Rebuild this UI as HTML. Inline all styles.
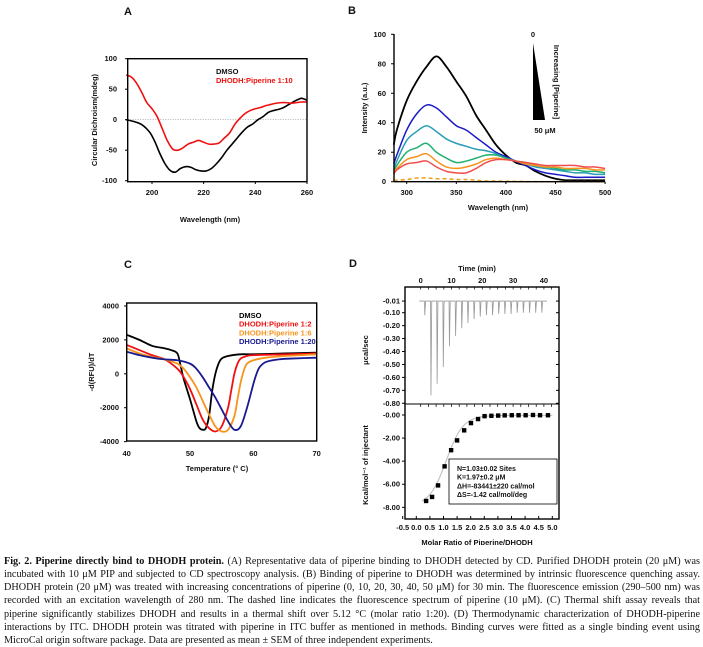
<!DOCTYPE html>
<html><head><meta charset="utf-8"><style>
body{margin:0;background:#fff;width:703px;height:645px;overflow:hidden;position:relative;font-family:"Liberation Sans",Arial,sans-serif}
svg{position:absolute;left:0;top:0}
.cap{position:absolute;left:4px;width:696px;font-family:"Liberation Serif",serif;font-size:10.2px;line-height:13px;height:13px;overflow:hidden;text-align:justify;text-align-last:justify;white-space:normal;color:#111}
</style></head><body>
<svg id="fig" width="703" height="545" viewBox="0 0 703 545"></svg>
<div class="cap" style="top:555px"><b>Fig. 2. Piperine directly bind to DHODH protein.</b> (A) Representative data of piperine binding to DHODH detected by CD. Purified DHODH protein (20 μM) was</div>
<div class="cap" style="top:568px">incubated with 10 μM PIP and subjected to CD spectroscopy analysis. (B) Binding of piperine to DHODH was determined by intrinsic fluorescence quenching assay.</div>
<div class="cap" style="top:581px">DHODH protein (20 μM) was treated with increasing concentrations of piperine (0, 10, 20, 30, 40, 50 μM) for 30 min. The fluorescence emission (290–500 nm) was</div>
<div class="cap" style="top:594px">recorded with an excitation wavelength of 280 nm. The dashed line indicates the fluorescence spectrum of piperine (10 μM). (C) Thermal shift assay reveals that</div>
<div class="cap" style="top:608px">piperine significantly stabilizes DHODH and results in a thermal shift over 5.12 °C (molar ratio 1:20). (D) Thermodynamic characterization of DHODH-piperine</div>
<div class="cap" style="top:621px">interactions by ITC. DHODH protein was titrated with piperine in ITC buffer as mentioned in methods. Binding curves were fitted as a single binding event using</div>
<div class="cap" style="top:634px;text-align-last:left">MicroCal origin software package. Data are presented as mean ± SEM of three independent experiments.</div>
<script>
// ---- Panel A data ----
const aWaveDmso=[190,193,196,199,201,203,205,207,209,211,213,215,217,219,221,223,225,227,229,231,233,235,237,239,241,243,245,247,249,251,253,255,257,258,260];
const aDmso=[0,-3,-8,-20,-35,-55,-72,-83,-86,-80,-77,-78,-82,-84,-84,-80,-72,-62,-50,-40,-30,-20,-12,-7,0,5,12,15,17,20,25,30,34,35,32];
const aWavePip=[190,192,194,196,198,200,202,204,206,208,210,212,214,216,218,220,222,224,226,228,230,232,234,236,238,240,242,244,246,248,250,252,254,256,258,260];
const aPip=[73,70,60,45,28,18,5,-15,-35,-48,-50,-46,-40,-37,-34,-37,-40,-40,-38,-30,-22,-8,2,10,15,18,20,23,25,27,28,28,27,28,29,29];
const aXTicks=[200,220,240,260];
const aYTicks=[100,50,0,-50,-100];
// ---- Panel B data ----
const bWave=[287,290,300,310,320,330,340,350,360,370,380,390,400,410,420,430,440,450,460,470,480,490,500];
const b0=[25,35,55,68,78,85,78,68,58,45,35,25,18,13,11,7,4,2,1,1,1,1,1];
const b10=[12,18,35,46,52,50,44,38,35,30,25,20,17,14,11,8,6,5,4,3,3,3,3];
const b20=[8,14,28,34,38,34,29,26,24,22,21,19,16,14,12,10,9,8,7,6,6,5,5];
const b30=[7,11,20,23,26,20,16,13,14,16,18,18,16,14,13,11,10,9,8,8,7,7,6];
const b40=[6,9,15,17,19,14,10,9,10,12,15,16,15,14,12,11,10,10,9,9,9,8,8];
const b50=[5,8,12,13,14,10,7,6,6,9,13,15,15,14,13,12,11,11,11,11,10,10,9];
const bPipOnly=[0.5,1,1.5,2.5,2.5,2,2,1.5,1.5,1,0.5,0.4,0.3,0.2,0.1,0,0,0,0,0,0,0,0];
const bXTicks=[300,350,400,450,500];
const bYTicks=[0,20,40,60,80,100];
// ---- Panel C data ----
const cTDmso=[40,42,44,46,47,48,48.5,49,50,51,51.5,52,52.5,53,53.5,54,54.5,55,56,58,60,65,70];
const cDmso=[2.3,2.0,1.65,1.5,1.4,1.2,0.5,-0.3,-1.5,-2.8,-3.2,-3.3,-3.2,-2.5,-1,0,0.6,0.9,1.05,1.15,1.15,1.2,1.25];
const cTR2=[40,42,44,46,48,49,50,51,52,53,54,55,56,56.5,57,57.5,58,59,60,65,70];
const cR2=[1.7,1.4,1.1,0.85,0.3,-0.2,-0.9,-1.8,-2.7,-3.2,-3.4,-3.1,-2,-1,0,0.6,0.9,1.05,1.1,1.15,1.2];
const cTR6=[40,42,44,46,48,49,50,51,52,53,54,55,56,57,57.5,58,58.5,59,60,62,65,70];
const cR6=[1.5,1.2,1.0,0.85,0.6,0.3,-0.2,-0.8,-1.6,-2.4,-3.1,-3.4,-3.3,-2.5,-1.5,-0.5,0.2,0.6,0.8,0.95,1.05,1.15];
const cTR20=[40,42,44,46,48,50,51,52,53,54,55,56,57,58,59,60,60.5,61,62,64,66,70];
const cR20=[1.3,1.1,0.95,0.85,0.8,0.6,0.3,-0.2,-0.8,-1.4,-2.1,-2.8,-3.3,-3.1,-2.0,-0.6,0,0.4,0.7,0.85,0.9,0.95];
const cXTicks=[40,50,60,70];
const cYTicks=[4000,2000,0,-2000,-4000];
// ---- Panel D data ----
const dInjTime=[1.2,3.2,5.2,7.2,9.2,11.2,13.2,15.2,17.2,19.2,21.2,23.2,25.2,27.2,29.2,31.2,33.2,35.2,37.2,39.2];
const dPeak=[-0.12,-0.74,-0.65,-0.52,-0.36,-0.28,-0.22,-0.18,-0.15,-0.13,-0.12,-0.12,-0.11,-0.11,-0.11,-0.10,-0.10,-0.10,-0.10,-0.10];
const dRatio=[0.36,0.58,0.8,1.04,1.28,1.5,1.76,2.01,2.27,2.51,2.76,3.01,3.25,3.51,3.76,4.02,4.29,4.55,4.84];
const dHeat=[-7.45,-7.1,-6.1,-4.45,-3.05,-2.2,-1.33,-0.7,-0.35,-0.1,-0.07,-0.05,-0.03,-0.02,-0.02,-0.02,0,-0.02,-0.02];
const dTimeTicks=[0,10,20,30,40];
const dTopTicks=[-0.01,-0.10,-0.20,-0.30,-0.40,-0.50,-0.60,-0.70,-0.80];
const dTopLabels=["-0.01","-0.10","-0.20","-0.30","-0.40","-0.50","-0.60","-0.70","-0.80"];
const dBotTicks=[0,-2,-4,-6,-8];
const dBotLabels=["-0.00","-2.00","-4.00","-6.00","-8.00"];
const dRatioTicks=[-0.5,0,0.5,1,1.5,2,2.5,3,3.5,4,4.5,5];
const dRatioLabels=["-0.5","0.0","0.5","1.0","1.5","2.0","2.5","3.0","3.5","4.0","4.5","5.0"];

const NS="http://www.w3.org/2000/svg";
const svg=document.getElementById('fig');
function mk(tag,attrs,parent){const e=document.createElementNS(NS,tag);for(const k in attrs)e.setAttribute(k,attrs[k]);(parent||svg).appendChild(e);return e;}
function txt(s,x,y,o){o=o||{};const e=mk('text',{x:x,y:y,'font-size':o.fs||7.5,'font-weight':o.fw||'bold','text-anchor':o.a||'middle',fill:o.c||'#111','font-family':'Liberation Sans, Arial, sans-serif'});if(o.rot)e.setAttribute('transform','rotate('+o.rot+' '+x+' '+y+')');e.textContent=s;return e;}
function smooth(pts){let d='M'+pts[0][0]+','+pts[0][1];for(let i=0;i<pts.length-1;i++){const p0=pts[Math.max(0,i-1)],p1=pts[i],p2=pts[i+1],p3=pts[Math.min(pts.length-1,i+2)];const c1=[p1[0]+(p2[0]-p0[0])/6,p1[1]+(p2[1]-p0[1])/6],c2=[p2[0]-(p3[0]-p1[0])/6,p2[1]-(p3[1]-p1[1])/6];d+='C'+c1[0].toFixed(2)+','+c1[1].toFixed(2)+' '+c2[0].toFixed(2)+','+c2[1].toFixed(2)+' '+p2[0].toFixed(2)+','+p2[1].toFixed(2);}return d;}
function series(xs,ys,fx,fy,stroke,w,name,dash){const pts=xs.map((x,i)=>[fx(x),fy(ys[i])]);const p=mk('path',{d:smooth(pts),fill:'none',stroke:stroke,'stroke-width':w,'stroke-linejoin':'round'});if(dash)p.setAttribute('stroke-dasharray',dash);


return p;}

// ===== Panel A =====
const ax=w=>152+(w-200)*2.583, ay=v=>119.7-v*0.61;
let t=txt('A',128,15,{fs:11});


mk('line',{x1:127.7,y1:ay(0),x2:307,y2:ay(0),stroke:'#888','stroke-width':0.7,'stroke-dasharray':'1,1.5'});
series(aWaveDmso,aDmso,ax,ay,'#000',1.6,'dmso-cd-line');
series(aWavePip,aPip,ax,ay,'#f01010',1.6,'piperine-cd-line');
let r=mk('rect',{x:127.7,y:58.7,width:179.3,height:123,fill:'none',stroke:'#000','stroke-width':1.4});


aXTicks.forEach(v=>{mk('line',{x1:ax(v),y1:181.7,x2:ax(v),y2:184,stroke:'#000'});t=txt(String(v),ax(v),195);

});
aYTicks.forEach(v=>{mk('line',{x1:125,y1:ay(v),x2:127.7,y2:ay(v),stroke:'#000'});t=txt(String(v),117,ay(v)+2.5,{a:'end'});

});
t=txt('Wavelength (nm)',210,222);


t=txt('Circular Dichroism(mdeg)',97,120,{rot:-90});


t=txt('DMSO',216,74,{a:'start',fs:7.5});


t=txt('DHODH:Piperine  1:10',216,83,{a:'start',fs:7.5,c:'#f01010'});



// ===== Panel B =====
const bx=w=>406.7+(w-300)*0.992, by=v=>181.7-v*1.474;
t=txt('B',352,14,{fs:11});


series(bWave,b0,bx,by,'#000',1.8,'fluor-0uM');
series(bWave,b10,bx,by,'#1a1ac8',1.5,'fluor-10uM');
series(bWave,b20,bx,by,'#2a9db8',1.5,'fluor-20uM');
series(bWave,b30,bx,by,'#20b070',1.5,'fluor-30uM');
series(bWave,b40,bx,by,'#f7941d',1.5,'fluor-40uM');
series(bWave,b50,bx,by,'#f04e4e',1.5,'fluor-50uM');
series(bWave,bPipOnly,bx,by,'#f0a020',1.6,'fluor-piperine-only','4,3');
mk('line',{x1:394,y1:34,x2:394,y2:181.7,stroke:'#000','stroke-width':1.4});
mk('line',{x1:394,y1:181.7,x2:605,y2:181.7,stroke:'#000','stroke-width':1.4});
bXTicks.forEach(v=>{mk('line',{x1:bx(v),y1:181.7,x2:bx(v),y2:184,stroke:'#000'});t=txt(String(v),bx(v),195);

});
bYTicks.forEach(v=>{mk('line',{x1:391,y1:by(v),x2:394,y2:by(v),stroke:'#000'});t=txt(String(v),386,by(v)+2.5,{a:'end'});

});
t=txt('Wavelength (nm)',498,210);


t=txt('Intensity (a.u.)',367,108,{rot:-90});


let tri=mk('polygon',{points:'533,43 533,120 545,120',fill:'#000'});


t=txt('0',533,37);


t=txt('50 μM',545,133);


t=txt('Increasing [Piperine]',554,82,{rot:90});



// ===== Panel C =====
const cx=v=>126.7+(v-40)*6.333, cy=v=>373.8-v*16.96;
t=txt('C',128,268,{fs:11});


series(cTDmso,cDmso,cx,cy,'#000',1.8,'tsa-dmso');
series(cTR2,cR2,cx,cy,'#f01010',1.8,'tsa-1-2');
series(cTR6,cR6,cx,cy,'#f7941d',1.8,'tsa-1-6');
series(cTR20,cR20,cx,cy,'#1a1a90',1.8,'tsa-1-20');
r=mk('rect',{x:126.7,y:303,width:190,height:138,fill:'none',stroke:'#000','stroke-width':1.4});


cXTicks.forEach(v=>{t=txt(String(v),cx(v),456);

});
cYTicks.forEach(v=>{mk('line',{x1:124,y1:cy(v/1000),x2:126.7,y2:cy(v/1000),stroke:'#000'});t=txt(String(v),119,cy(v/1000)+2.5,{a:'end'});

});
t=txt('Temperature (°  C)',217,471);


t=txt('-d(RFU)/dT',94,372,{rot:-90});


[['DMSO','#000'],['DHODH:Piperine 1:2','#f01010'],['DHODH:Piperine 1:6','#f7941d'],['DHODH:Piperine 1:20','#1a1a90']].forEach((l,i)=>{t=txt(l[0],239,318+i*8.7,{a:'start',c:l[1]});

});

// ===== Panel D =====
t=txt('D',353,267,{fs:11});


const dtx=m=>420.7+m*3.08, dty=v=>312.7+(-0.1-v)*129.4;
const drx=v=>416.3+v*27.2, dry=v=>415-v*11.54;
// raw trace
let d='M'+dtx(-0.5)+','+dty(-0.01);
dInjTime.forEach((m,i)=>{d+=' L'+dtx(m)+','+dty(-0.01)+' L'+(dtx(m)+0.4)+','+dty(dPeak[i])+' L'+(dtx(m)+1.2)+','+dty(-0.01);});
d+=' L'+dtx(41)+','+dty(-0.01);
let pth=mk('path',{d:d,fill:'none',stroke:'#999','stroke-width':0.8});


// fit curve
let fitPts=[];for(let x=0.2;x<=5.0;x+=0.1){fitPts.push([drx(x),dry(-7.85/(1+Math.exp((x-1.1)*3.2))-0.03)]);}
pth=mk('path',{d:smooth(fitPts),fill:'none',stroke:'#bbb','stroke-width':1});


dRatio.forEach((v,i)=>{const s=mk('rect',{x:drx(v)-2.2,y:dry(dHeat[i])-2.2,width:4.4,height:4.4,fill:'#000'});

});
r=mk('rect',{x:405,y:287,width:154,height:232,fill:'none',stroke:'#000','stroke-width':1.4});


mk('line',{x1:405,y1:404,x2:559,y2:404,stroke:'#000','stroke-width':1});
for(let m=0;m<=44;m+=2.5){mk('line',{x1:dtx(m),y1:287,x2:dtx(m),y2:289.5,stroke:'#000','stroke-width':0.7});mk('line',{x1:dtx(m),y1:404,x2:dtx(m),y2:407,stroke:'#000','stroke-width':0.7});}
dTimeTicks.forEach(v=>{t=txt(String(v),dtx(v),283);

});
t=txt('Time (min)',477,271);


dTopTicks.forEach((v,i)=>{mk('line',{x1:402,y1:dty(v),x2:405,y2:dty(v),stroke:'#000'});mk('line',{x1:556,y1:dty(v),x2:559,y2:dty(v),stroke:'#000'});t=txt(dTopLabels[i],400,dty(v)+2.5,{a:'end'});

});
dBotTicks.forEach((v,i)=>{mk('line',{x1:402,y1:dry(v),x2:405,y2:dry(v),stroke:'#000'});t=txt(dBotLabels[i],400,dry(v)+2.5,{a:'end'});

});
dRatioTicks.forEach((v,i)=>{mk('line',{x1:drx(v),y1:519,x2:drx(v),y2:516,stroke:'#000'});t=txt(dRatioLabels[i],drx(v),530);

});
t=txt('Molar Ratio of Piperine/DHODH',477,545);


t=txt('μcal/sec',368,350,{rot:-90});


t=txt('Kcal/mol⁻¹ of injectant',368,465,{rot:-90});


r=mk('rect',{x:449,y:459,width:108,height:45,fill:'#fff',stroke:'#000','stroke-width':0.8});


['N=1.03±0.02 Sites','K=1.97±0.2 μM','ΔH=-83441±220 cal/mol','ΔS=-1.42 cal/mol/deg'].forEach((s,i)=>{t=txt(s,457,471+i*8.7,{a:'start',fs:7});

});
</script>
</body></html>
